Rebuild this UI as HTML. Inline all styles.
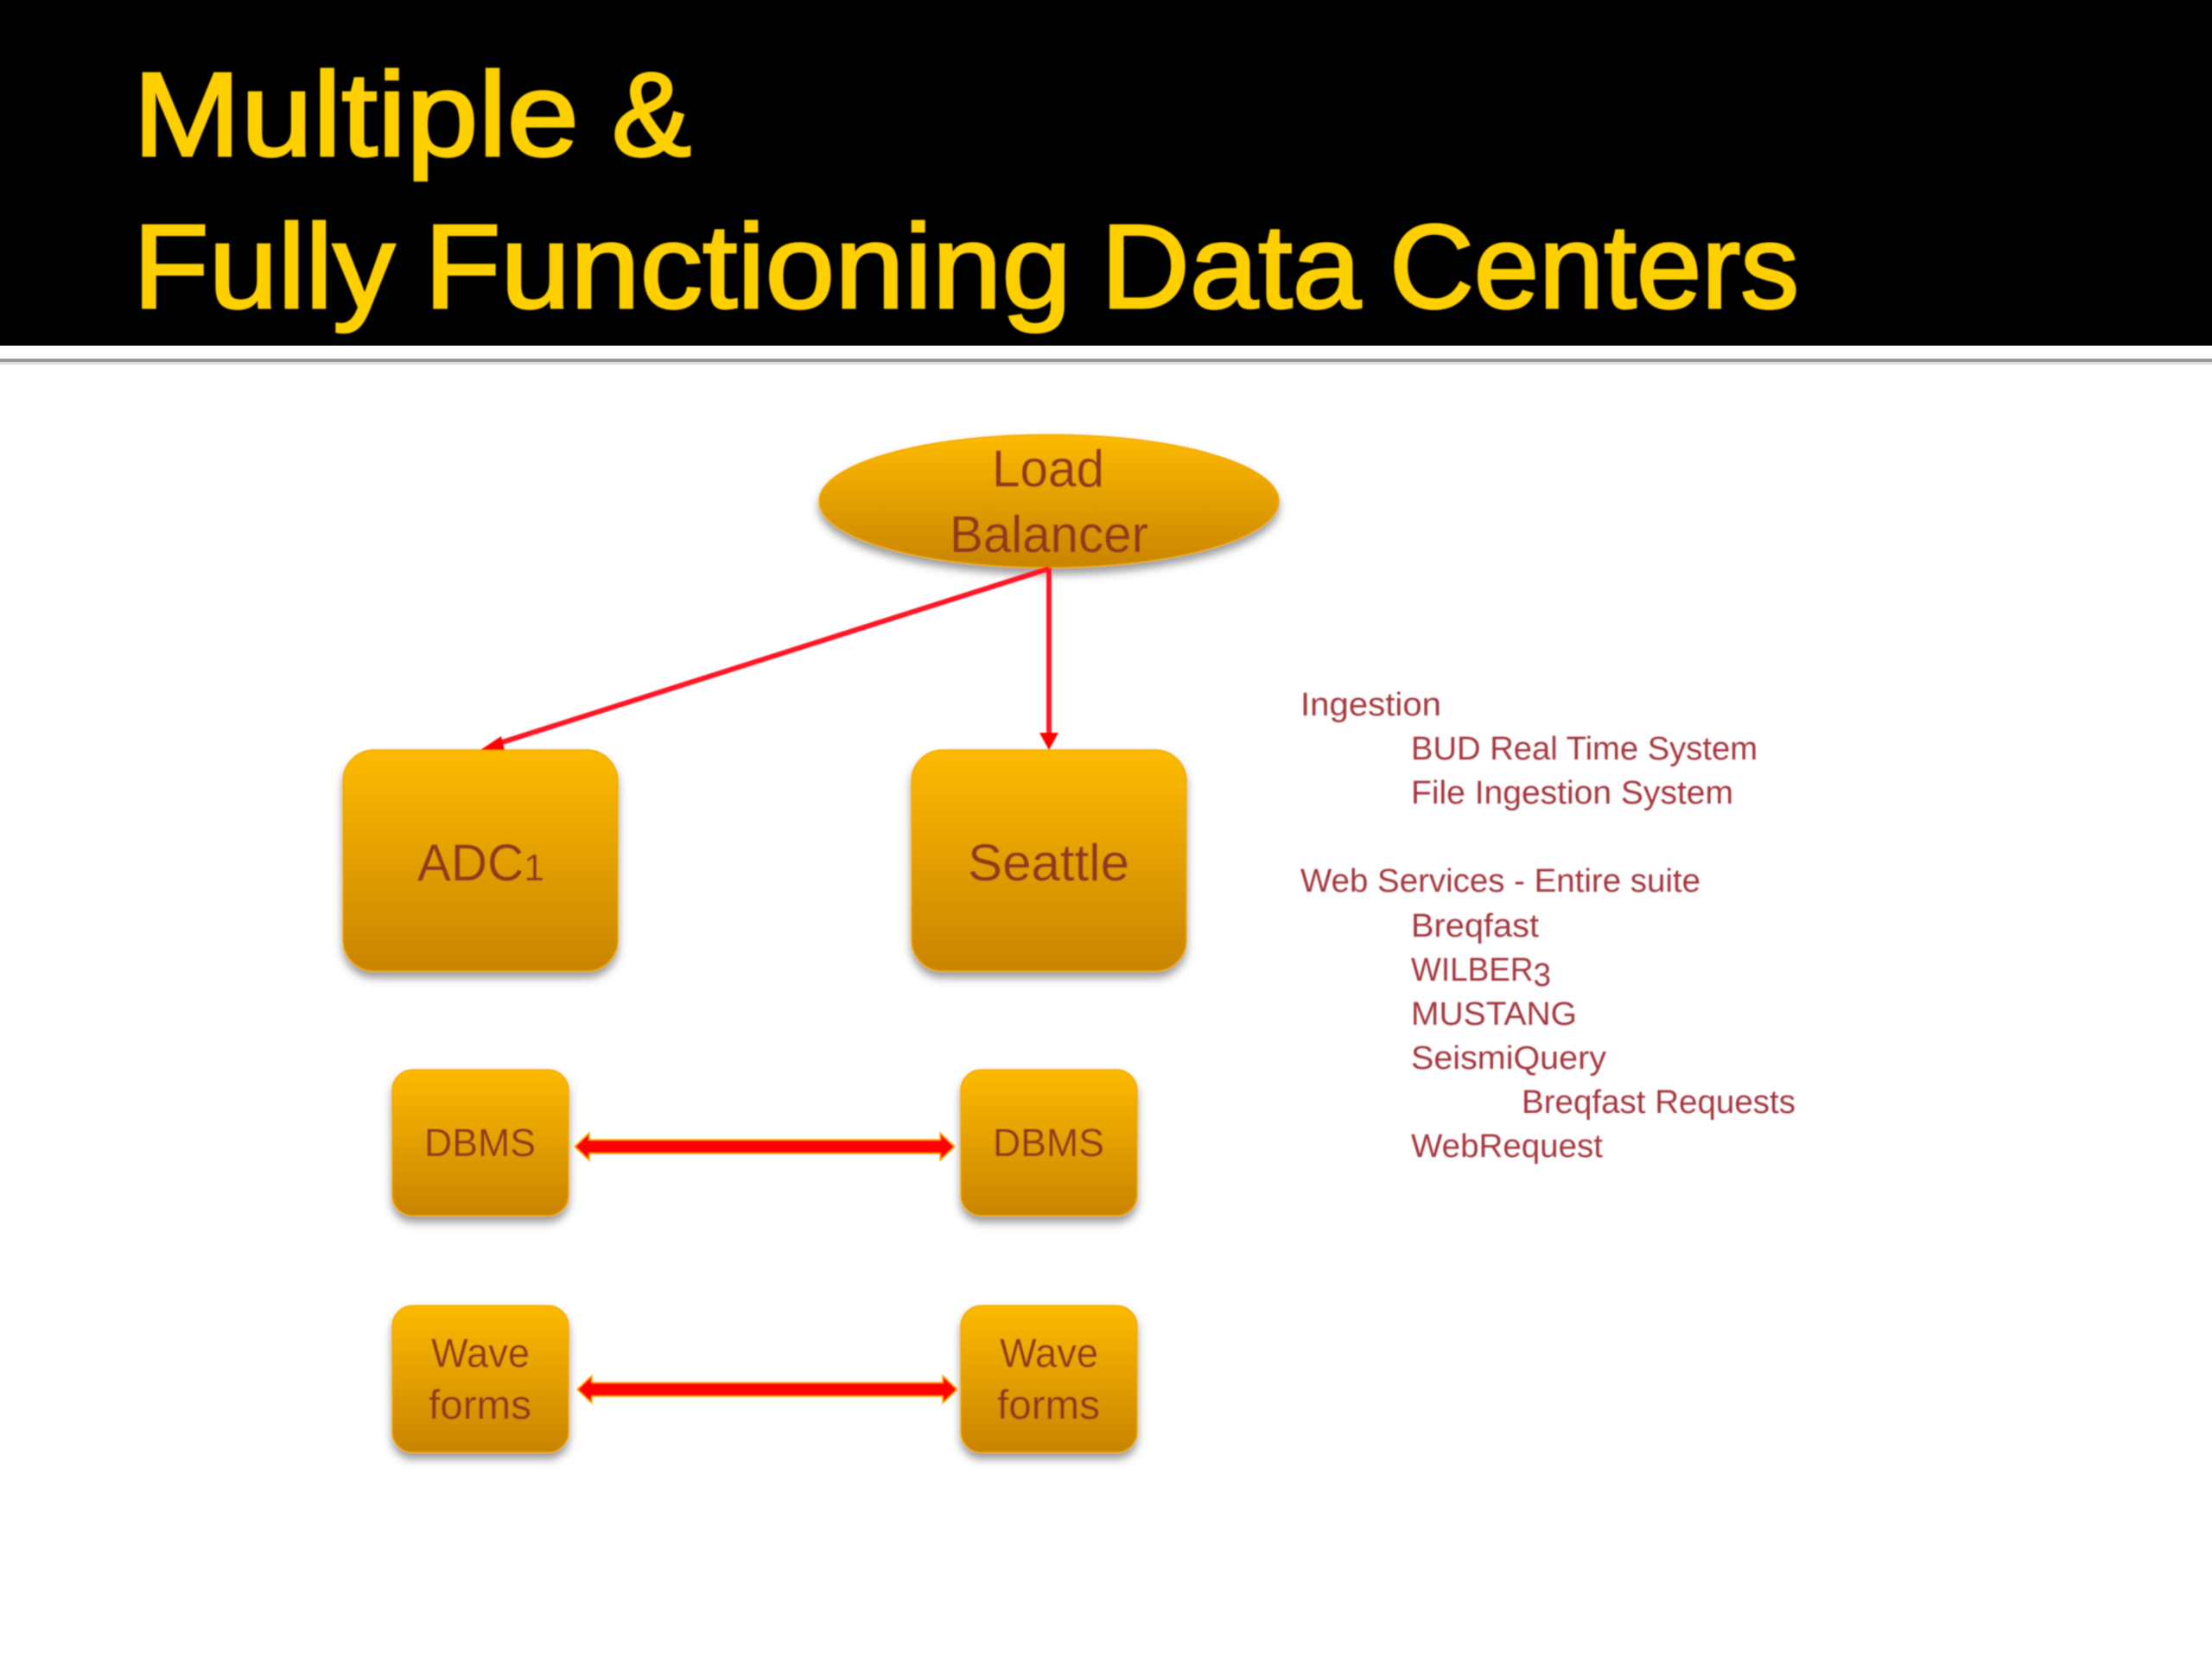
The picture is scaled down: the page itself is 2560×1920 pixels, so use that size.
<!DOCTYPE html>
<html><head><meta charset="utf-8"><style>
html,body{margin:0;padding:0;background:#fff;width:2560px;height:1920px;overflow:hidden}
svg{display:block}
text{font-family:"Liberation Sans",sans-serif}
.t{fill:#ffd000;font-size:138px;stroke:#ffd000;stroke-width:3}
.n{fill:#93391f;text-anchor:start}
.s{fill:#a5383f;font-size:38px}
</style></head><body>
<svg width="2560" height="1920" viewBox="0 0 2560 1920" xmlns="http://www.w3.org/2000/svg">
<defs>
<linearGradient id="g" x1="0" y1="0" x2="0" y2="1"><stop offset="0" stop-color="#fdba00"/><stop offset="1" stop-color="#c98400"/></linearGradient>
<filter id="sh" x="-10%" y="-15%" width="120%" height="135%"><feDropShadow dx="0" dy="7" stdDeviation="5" flood-color="#555" flood-opacity=".6"/></filter>
<filter id="b" x="-2%" y="-2%" width="104%" height="104%"><feGaussianBlur stdDeviation="0.8"/></filter>
</defs>
<rect width="2560" height="1920" fill="#fff"/>
<rect width="2560" height="400" fill="#000"/>
<rect y="415" width="2560" height="4" fill="#999"/>
<rect y="419" width="2560" height="3" fill="#ddd"/>
<g filter="url(#b)">
<text class="t" x="154" y="180" textLength="516" lengthAdjust="spacingAndGlyphs">Multiple</text>
<text class="t" x="708" y="180" textLength="92" lengthAdjust="spacingAndGlyphs">&amp;</text>
<text class="t" x="154" y="356" textLength="303" lengthAdjust="spacingAndGlyphs">Fully</text>
<text class="t" x="491" y="356" textLength="749" lengthAdjust="spacingAndGlyphs">Functioning</text>
<text class="t" x="1274" y="356" textLength="301" lengthAdjust="spacingAndGlyphs">Data</text>
<text class="t" x="1608" y="356" textLength="474" lengthAdjust="spacingAndGlyphs">Centers</text>

<g stroke="#f2aa00" stroke-width="1.5" fill="url(#g)" filter="url(#sh)">
<ellipse cx="1214" cy="580" rx="266" ry="77"/>
<rect x="397" y="868" width="318" height="256" rx="36"/>
<rect x="1055" y="868" width="318" height="256" rx="36"/>
<rect x="454" y="1238" width="204" height="169" rx="24"/>
<rect x="1112" y="1238" width="204" height="169" rx="24"/>
<rect x="454" y="1511" width="204" height="170" rx="24"/>
<rect x="1112" y="1511" width="204" height="170" rx="24"/>
</g>

<text class="n" font-size="60" x="1148" y="563" textLength="130" lengthAdjust="spacingAndGlyphs">Load</text>
<text class="n" font-size="60" x="1099" y="639" textLength="230" lengthAdjust="spacingAndGlyphs">Balancer</text>
<text class="n" font-size="60" x="483" y="1019" textLength="147" lengthAdjust="spacingAndGlyphs">ADC<tspan font-size="44">1</tspan></text>
<text class="n" font-size="60" x="1120" y="1019" textLength="187" lengthAdjust="spacingAndGlyphs">Seattle</text>
<text class="n" font-size="45" x="491" y="1338" textLength="129" lengthAdjust="spacingAndGlyphs">DBMS</text>
<text class="n" font-size="45" x="1149" y="1338" textLength="129" lengthAdjust="spacingAndGlyphs">DBMS</text>
<text class="n" font-size="47" x="499" y="1582" textLength="114" lengthAdjust="spacingAndGlyphs">Wave</text>
<text class="n" font-size="47" x="496" y="1642" textLength="119" lengthAdjust="spacingAndGlyphs">forms</text>
<text class="n" font-size="47" x="1157" y="1582" textLength="114" lengthAdjust="spacingAndGlyphs">Wave</text>
<text class="n" font-size="47" x="1154" y="1642" textLength="119" lengthAdjust="spacingAndGlyphs">forms</text>

<!-- connectors -->
<line x1="1214" y1="658" x2="578" y2="860" stroke="#ff1525" stroke-width="6"/>
<polygon points="556,868 580,852 584,868" fill="#f00"/>
<rect x="1211" y="657" width="6" height="195" fill="#ff1525"/>
<polygon points="1214,868 1203,848 1225,848" fill="#f00"/>

<g stroke="#ffb000" stroke-width="1.5" fill="#f00">
<polygon points="665,1327 682,1311 682,1319 1088,1319 1088,1311 1105,1327 1088,1343 1088,1335 682,1335 682,1343"/>
<polygon points="668,1608 685,1592 685,1600 1091,1600 1091,1592 1108,1608 1091,1624 1091,1616 685,1616 685,1624"/>
</g>

<!-- right-hand list -->
<text class="s" x="1505" y="828" textLength="163" lengthAdjust="spacingAndGlyphs">Ingestion</text>
<text class="s" x="1633" y="879" textLength="401" lengthAdjust="spacingAndGlyphs">BUD Real Time System</text>
<text class="s" x="1633" y="930" textLength="373" lengthAdjust="spacingAndGlyphs">File Ingestion System</text>
<text class="s" x="1505" y="1032" textLength="463" lengthAdjust="spacingAndGlyphs">Web Services - Entire suite</text>
<text class="s" x="1633" y="1084" textLength="148" lengthAdjust="spacingAndGlyphs">Breqfast</text>
<text class="s" x="1633" y="1135" textLength="162" lengthAdjust="spacingAndGlyphs">WILBER<tspan dy="6">3</tspan></text>
<text class="s" x="1633" y="1186" textLength="192" lengthAdjust="spacingAndGlyphs">MUSTANG</text>
<text class="s" x="1633" y="1237" textLength="226" lengthAdjust="spacingAndGlyphs">SeismiQuery</text>
<text class="s" x="1761" y="1288" textLength="317" lengthAdjust="spacingAndGlyphs">Breqfast Requests</text>
<text class="s" x="1633" y="1339" textLength="222" lengthAdjust="spacingAndGlyphs">WebRequest</text>
</g>
</svg>
</body></html>
